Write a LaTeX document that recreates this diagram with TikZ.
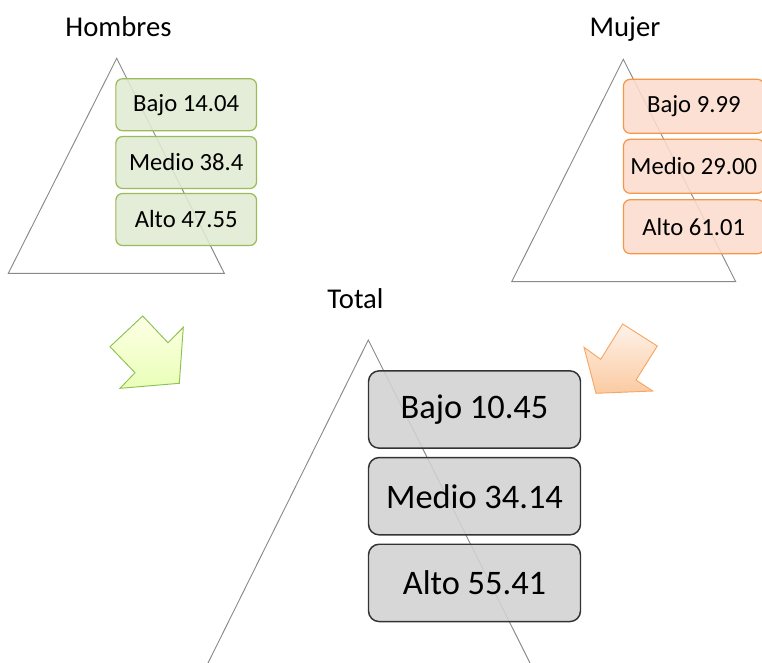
\documentclass[tikz,border=0pt]{standalone}
\usepackage{fontspec}
\setmainfont{Carlito}
\usepackage{tikz}
\usetikzlibrary{positioning}
\definecolor{hgreen}{HTML}{9BBB59}
\definecolor{hgreentint}{HTML}{E0EAD2}
\definecolor{mora}{HTML}{F79646}
\definecolor{moratint}{HTML}{FBDCCD}
\definecolor{tgray}{HTML}{D2D2D2}
\definecolor{tline}{HTML}{8A8A8A}

\begin{document}
\begin{tikzpicture}[x=0.75pt,y=-0.75pt,
  tri/.style={draw=tline,line width=0.7pt,line join=miter},
  hb/.style={draw=hgreen,fill=hgreentint,fill opacity=.88,text opacity=1,rounded corners=5pt,
    line width=0.9pt,minimum width=105.5pt,minimum height=39pt,inner sep=0pt,
    font=\fontsize{18.5}{22}\selectfont},
  mb/.style={hb,draw=mora,fill=moratint,minimum height=40.5pt},
  tb/.style={hb,draw=black!80,fill=tgray,line width=1.1pt,rounded corners=8pt,
    minimum width=159pt,minimum height=58pt,font=\fontsize{25.8}{30}\selectfont},
  ttl/.style={anchor=base,inner sep=0pt,font=\fontsize{21.5}{25}\selectfont}]
\useasboundingbox (0,0) rectangle (762,662);
\clip (0,0) rectangle (762,662);

% titles
\node[ttl] (th) at (118.5,36.7) {Hombres};
\node[ttl] (tm) at (625,36) {Mujer};
\node[ttl] (tt) at (355.5,308) {Total};

% pyramids
\draw[tri] (8.3,273.3) -- (116.7,58.3) -- (224.3,273.3) -- cycle;
\draw[tri] (511.7,281.7) -- (623.3,59.3) -- (735.7,281.7) -- cycle;
\draw[tri] (207,665) -- (368.3,340) -- (531,665);

% Hombres
\node[hb] (hbajo) at (186.2,104.7) {Bajo 14.04};
\node[hb] (hmedio) at (186.2,162.5) {Medio 38.4};
\node[hb] (halto) at (186.2,219.5) {Alto 47.55};

% Mujer
\node[mb] (mbajo) at (693.8,106.3) {Bajo 9.99};
\node[mb] (mmedio) at (693.8,166.3) {Medio 29.00};
\node[mb] (malto) at (693.8,226.7) {Alto 61.01};

% Total
\node[tb] (tbajo) at (474.5,409.5) {Bajo 10.45};
\node[tb] (tmedio) at (474.5,496.2) {Medio 34.14};
\node[tb] (talto) at (474.5,582.9) {Alto 55.41};

% block arrows
\shade[top color=green!8!yellow!10,bottom color=green!30!yellow!28,draw=hgreen!90!green,line width=0.7pt]
  (142.7,316) -- (168,342.7) -- (183.3,327.3) -- (179.3,383.3) -- (120,388.3)
  -- (135,372.7) -- (110,346.7) -- cycle;
\shade[top color=mora!12,bottom color=mora!50,draw=mora!85,line width=0.7pt]
  (622.7,324) -- (657.3,346) -- (636,380) -- (652.7,391) -- (596,393.3)
  -- (584,347.3) -- (600.7,359.3) -- cycle;
\end{tikzpicture}
\end{document}
